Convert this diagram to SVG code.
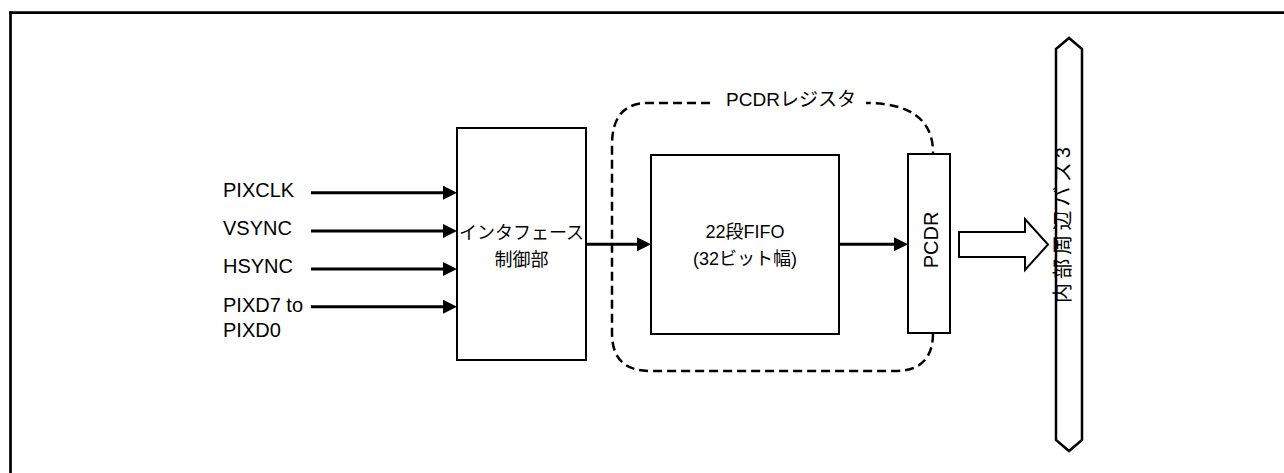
<svg xmlns="http://www.w3.org/2000/svg" width="1284" height="473" viewBox="0 0 1284 473">
<style>
text{font-family:"Liberation Sans","Noto Sans CJK JP",sans-serif;fill:#000}
.lbl{font-size:20px}
.jp{font-size:18px}
.box{fill:#fff;stroke:#000;stroke-width:2}
.wire{stroke:#000;stroke-width:3;fill:none;marker-end:url(#ah)}
.dash{fill:none;stroke:#000;stroke-width:2.5;stroke-dasharray:9 5}
</style>
<defs>
<marker id="ah" viewBox="0 0 14 14" refX="7" refY="7" markerWidth="14" markerHeight="14" markerUnits="userSpaceOnUse" orient="auto">
<path d="M0,0 L14,7 L0,14 z" fill="#000"/>
</marker>
</defs>
<rect width="1284" height="473" fill="#fff"/>
<g id="frame">
<line x1="9" y1="12.7" x2="1284" y2="12.7" stroke="#000" stroke-width="2.7"/>
<line x1="10.5" y1="11.4" x2="10.5" y2="473" stroke="#000" stroke-width="2.7"/>
</g>
<g id="pcdr-register">
<path class="dash" d="M710,103 H648 Q612,103 612,145 V333 Q612,371 650,371 H895 Q933,371 933,333 V152 C933,120 910,103 866,103"/>
<text class="lbl" x="791" y="106" text-anchor="middle" style="font-size:19px">PCDRレジスタ</text>
</g>
<g id="signals">
<text class="lbl" x="223" y="197">PIXCLK</text>
<text class="lbl" x="223" y="235">VSYNC</text>
<text class="lbl" x="223" y="273">HSYNC</text>
<text class="lbl" x="223" y="311.5">PIXD7 to</text>
<text class="lbl" x="223" y="337">PIXD0</text>
</g>
<g id="interface">
<rect class="box" x="457" y="128" width="129" height="232"/>
<text class="jp" x="521.5" y="239" text-anchor="middle">インタフェース</text>
<text class="jp" x="521.5" y="266" text-anchor="middle">制御部</text>
</g>
<g id="fifo">
<rect class="box" x="651" y="155" width="188" height="179"/>
<text class="jp" x="745" y="238" text-anchor="middle">22段FIFO</text>
<text class="jp" x="745" y="265" text-anchor="middle">(32ビット幅)</text>
</g>
<g id="pcdr">
<rect class="box" x="908" y="154" width="42" height="179"/>
<text class="lbl" transform="translate(938.3,240) rotate(-90)" text-anchor="middle">PCDR</text>
</g>
<g id="bus">
<polygon points="1056,49 1069,38 1082,49 1082,440 1069,451 1056,440" fill="#fff" stroke="#000" stroke-width="2.5"/>
<text transform="translate(1070,225) rotate(-90)" text-anchor="middle" style="font-size:20px" textLength="156" lengthAdjust="spacing">内部周辺バス3</text>
</g>
<g id="connectors">
<line class="wire" x1="311" y1="192.7" x2="450" y2="192.7"/>
<line class="wire" x1="311" y1="231" x2="450" y2="231"/>
<line class="wire" x1="311" y1="269" x2="450" y2="269"/>
<line class="wire" x1="311" y1="306.7" x2="450" y2="306.7"/>
<line class="wire" x1="586" y1="244.3" x2="644" y2="244.3"/>
<line class="wire" x1="839" y1="244.3" x2="901" y2="244.3"/>
<polygon points="959,232 1025,232 1025,219 1048,244.5 1025,270 1025,257 959,257" fill="#fff" stroke="#000" stroke-width="2"/>
</g>
</svg>
